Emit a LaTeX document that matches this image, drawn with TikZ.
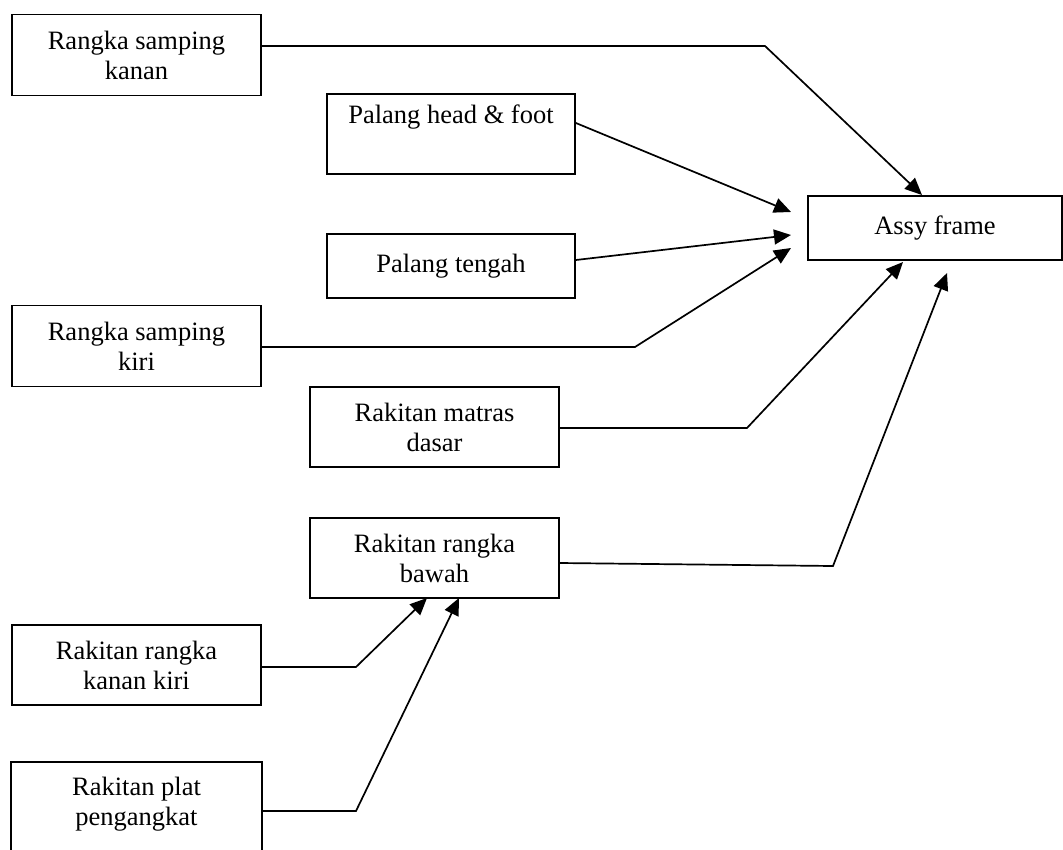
\documentclass[tikz,border=0pt]{standalone}
\usepackage{fontspec}
\setmainfont{Liberation Serif}
\usetikzlibrary{arrows.meta,calc}
\begin{document}
\begin{tikzpicture}[x=1pt,y=-1pt,
  box/.style={draw, line width=1.8pt, minimum width=249pt, minimum height=81pt,
    align=center, inner sep=0pt, font=\fontsize{26.5}{30}\selectfont},
  link/.style={line width=1.7pt, -{Triangle[length=17pt,width=15pt]}}]
\clip (0,0) rectangle (1063,849);
\fill[white] (0,0) rectangle (1063,849);

% parts
\node[box] (b1) at (136.5,55) {Rangka samping\\kanan};
\node[box, minimum width=248pt, minimum height=80pt] (b2) at (451,134) {Palang head \& foot\\\strut};
\node[box, minimum width=248pt, minimum height=64pt] (b3) at (451,266) {Palang tengah};
\node[box] (b4) at (136.5,346) {Rangka samping\\kiri};
\node[box, minimum height=80pt] (b5) at (434.5,427) {Rakitan matras\\dasar};
\node[box, minimum height=80pt] (b6) at (434.5,558) {Rakitan rangka\\bawah};
\node[box, minimum height=80pt] (b7) at (136.5,665) {Rakitan rangka\\kanan kiri};
\node[box, draw=none, minimum height=82pt] (b8) at (136.5,804) {Rakitan plat\\pengangkat};
\draw[line width=1.8pt] ($(b8.south west)+(0,30)$) -- (b8.north west) -- (b8.north east) -- ($(b8.south east)+(0,30)$);

% assembly
\node[box, minimum width=254pt, minimum height=64pt] (assy) at (935,228) {Assy frame};

% bends and arrow ends
\coordinate (k1) at (765,46);   \coordinate (t1) at (922,195);
\coordinate (t2) at (791,212);
\coordinate (t3) at (791,235);
\coordinate (k4) at (635,347);  \coordinate (t4) at (791,248);
\coordinate (k5) at (747,428);  \coordinate (t5) at (903,262);
\coordinate (k6) at (833,566);  \coordinate (t6) at (947,273);
\coordinate (k7) at (356,667);  \coordinate (t7) at (427,598);
\coordinate (k8) at (356,811);  \coordinate (t8) at (459,598);

% connectors
\draw[link] (b1.east |- k1) -- (k1) -- (t1);
\draw[link] ([yshift=11pt]b2.east) -- (t2);
\draw[link] ([yshift=6pt]b3.east) -- (t3);
\draw[link] (b4.east |- k4) -- (k4) -- (t4);
\draw[link] (b5.east |- k5) -- (k5) -- (t5);
\draw[link] ([yshift=-5pt]b6.east) -- (k6) -- (t6);
\draw[link] (b7.east |- k7) -- (k7) -- (t7);
\draw[link] (b8.east |- k8) -- (k8) -- (t8);
\end{tikzpicture}
\end{document}
